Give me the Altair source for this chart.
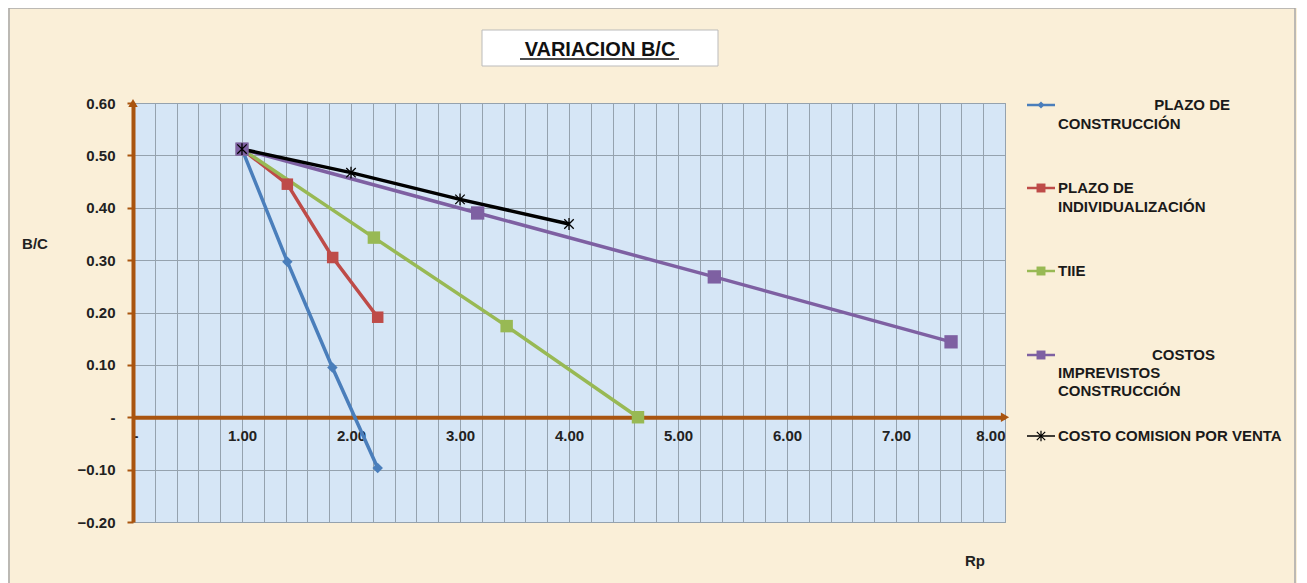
import altair as alt
import pandas as pd

# ---------------- data ----------------
SERIES = [
    "PLAZO DE CONSTRUCCIÓN",
    "PLAZO DE INDIVIDUALIZACIÓN",
    "TIIE",
    "COSTOS IMPREVISTOS CONSTRUCCIÓN",
    "COSTO COMISION POR VENTA",
]
COLORS = ["#4A7EBB", "#BE4B48", "#98B954", "#7E60A2", "#000000"]

plazo_construccion_x = [1.00, 1.416, 1.829, 2.245]
plazo_construccion_y = [0.512, 0.297, 0.095, -0.097]
plazo_individualizacion_x = [1.00, 1.416, 1.832, 2.245]
plazo_individualizacion_y = [0.512, 0.445, 0.305, 0.191]
tiie_x = [1.00, 2.21, 3.428, 4.633]
tiie_y = [0.512, 0.343, 0.174, 0.0]
imprevistos_x = [1.00, 3.162, 5.333, 7.505]
imprevistos_y = [0.512, 0.390, 0.268, 0.144]
comision_x = [1.00, 2.00, 3.00, 4.00]
comision_y = [0.512, 0.467, 0.416, 0.369]

X_TICKS = [round(i * 0.2, 1) for i in range(41)]
Y_TICKS = [round(-0.2 + i * 0.1, 1) for i in range(9)]
X_MIN, X_MAX = 0.0, 8.0
Y_MIN, Y_MAX = -0.2, 0.6

xs = [plazo_construccion_x, plazo_individualizacion_x, tiie_x, imprevistos_x, comision_x]
ys = [plazo_construccion_y, plazo_individualizacion_y, tiie_y, imprevistos_y, comision_y]
rows = []
for k, (s, xv, yv) in enumerate(zip(SERIES, xs, ys)):
    for i, (a, b) in enumerate(zip(xv, yv)):
        rows.append({"series": s, "order": k, "idx": i, "x": a, "y": b})
df = pd.DataFrame(rows)

# ---------------- styling ----------------
W, H = 872, 419
FONT = "Liberation Sans"
BROWN = "#A9540F"
BG = "#FAEFD8"
PLOT_BG = "#D6E6F6"
GRID = "#95A2AE"

STAR = "M-1,-1L1,1M-1,1L1,-1M0,-1.25L0,1.25"
SHAPES = ["diamond", "square", "square", "square", STAR]
SIZES = [110, 200, 210, 200, 90]

xscale = alt.Scale(domain=[X_MIN, X_MAX], nice=False, zero=False)
yscale = alt.Scale(domain=[Y_MIN, Y_MAX], nice=False, zero=False)
color_scale = alt.Scale(domain=SERIES, range=COLORS)

x_enc = alt.X(
    "x:Q",
    scale=xscale,
    axis=alt.Axis(
        values=X_TICKS,
        tickCount=len(X_TICKS),
        title=None,
        offset=-(H * (0 - Y_MIN) / (Y_MAX - Y_MIN)),
        labelExpr="abs(datum.value - round(datum.value)) < 0.001 ? (datum.value == 0 ? '-' : format(datum.value, '.2f')) : ''",
        labelOverlap=False,
        labelFont=FONT,
        labelFontSize=15,
        labelFontWeight="bold",
        labelColor="#222222",
        labelPadding=11,
        ticks=False,
        domainColor=BROWN,
        domainWidth=4,
        grid=True,
        gridColor=GRID,
        gridWidth=1,
    ),
)
y_enc = alt.Y(
    "y:Q",
    scale=yscale,
    axis=alt.Axis(
        values=Y_TICKS,
        tickCount=len(Y_TICKS),
        title=None,
        labelExpr="abs(datum.value) < 0.001 ? '-\u2007\u2007' : format(datum.value, '.2f')",
        labelFont=FONT,
        labelFontSize=15,
        labelFontWeight="bold",
        labelColor="#222222",
        labelPadding=12,
        tickColor=BROWN,
        tickSize=6,
        tickWidth=2,
        domainColor=BROWN,
        domainWidth=4,
        grid=True,
        gridColor=GRID,
        gridWidth=1,
    ),
)

base = alt.Chart(df)

lines = base.mark_line(strokeWidth=3.5).encode(
    x=x_enc,
    y=y_enc,
    color=alt.Color("series:N", scale=color_scale, legend=None),
    detail="series:N",
    order="idx:Q",
)

filled_pts = base.transform_filter(
    alt.datum.series != SERIES[4]
).mark_point(filled=True, opacity=1).encode(
    x=alt.X("x:Q", scale=xscale),
    y=alt.Y("y:Q", scale=yscale),
    color=alt.Color("series:N", scale=color_scale, legend=None),
    shape=alt.Shape("series:N", scale=alt.Scale(domain=SERIES, range=SHAPES), legend=None),
    size=alt.Size("series:N", scale=alt.Scale(domain=SERIES, range=SIZES), legend=None),
)

star_pts = base.transform_filter(
    alt.datum.series == SERIES[4]
).mark_point(filled=False, shape=STAR, size=90, strokeWidth=1.3, color="#000000", opacity=1).encode(
    x=alt.X("x:Q", scale=xscale),
    y=alt.Y("y:Q", scale=yscale),
)

# axis arrowheads
arrows_df = pd.DataFrame({"x": [X_MAX, X_MIN], "y": [0.0, Y_MAX], "shape": ["triangle-right", "triangle-up"]})
arrows = alt.Chart(arrows_df).mark_point(filled=True, size=90, color=BROWN, opacity=1).encode(
    x=alt.X("x:Q", scale=xscale),
    y=alt.Y("y:Q", scale=yscale),
    shape=alt.Shape("shape:N", scale=None, legend=None),
)

# ---------------- title, axis titles, frame ----------------
one = pd.DataFrame({"a": [0]})

title_box = alt.Chart(one).mark_rect(fill="#FFFFFF", stroke="#BBBBBB", strokeWidth=1).encode(
    x=alt.value(349), x2=alt.value(585), y=alt.value(-73), y2=alt.value(-37)
)
title_txt = alt.Chart(one).mark_text(
    text="VARIACION B/C", font=FONT, fontSize=20, fontWeight="bold", color="#111111",
    align="center", baseline="alphabetic"
).encode(x=alt.value(467), y=alt.value(-47))
title_ul = alt.Chart(one).mark_rule(color="#111111", strokeWidth=1.6).encode(
    x=alt.value(387), x2=alt.value(546), y=alt.value(-44)
)
ytitle = alt.Chart(one).mark_text(
    text="B/C", font=FONT, fontSize=15, fontWeight="bold", color="#222222", align="center", baseline="middle"
).encode(x=alt.value(-98), y=alt.value(141))
xtitle = alt.Chart(one).mark_text(
    text="Rp", font=FONT, fontSize=15, fontWeight="bold", color="#222222", align="center", baseline="middle"
).encode(x=alt.value(842), y=alt.value(458))
frame = alt.Chart(one).mark_rect(fill=None, stroke="#A8A8A8", strokeWidth=1.5).encode(
    x=alt.value(-124), x2=alt.value(1162), y=alt.value(-95), y2=alt.value(490)
)

# ---------------- legend (manual) ----------------
LEG_Y = [2, 85, 168, 252, 333]
LEG_LINES = [
    [("PLAZO DE", "right", 1097, 0), ("CONSTRUCCIÓN", "left", 925, 19)],
    [("PLAZO DE", "left", 925, 0), ("INDIVIDUALIZACIÓN", "left", 925, 19)],
    [("TIIE", "left", 925, 0)],
    [("COSTOS", "right", 1082, 0), ("IMPREVISTOS", "left", 925, 18), ("CONSTRUCCIÓN", "left", 925, 36)],
    [("COSTO COMISION POR VENTA", "left", 925, 0)],
]
LEG_SHAPES = ["diamond", "square", "square", "square", STAR]
LEG_SIZES = [50, 80, 80, 80, 70]

legend_layers = []
for k in range(len(SERIES)):
    yy = LEG_Y[k]
    legend_layers.append(
        alt.Chart(one).mark_rule(color=COLORS[k], strokeWidth=2.5 if k < 4 else 1.5).encode(
            x=alt.value(894), x2=alt.value(922), y=alt.value(yy)
        )
    )
    if k < 4:
        legend_layers.append(
            alt.Chart(one).mark_point(filled=True, opacity=1, shape=LEG_SHAPES[k], size=LEG_SIZES[k], color=COLORS[k]).encode(
                x=alt.value(908), y=alt.value(yy)
            )
        )
    else:
        legend_layers.append(
            alt.Chart(one).mark_point(filled=False, opacity=1, shape=STAR, size=LEG_SIZES[k], color="#000000", strokeWidth=1.2).encode(
                x=alt.value(908), y=alt.value(yy)
            )
        )
    for (txt, al, lx, dy) in LEG_LINES[k]:
        legend_layers.append(
            alt.Chart(one).mark_text(
                text=txt, font=FONT, fontSize=15, fontWeight="bold", color="#1A1A1A",
                align=al, baseline="middle"
            ).encode(x=alt.value(lx), y=alt.value(yy + dy))
        )

chart = alt.layer(
    frame, lines, filled_pts, star_pts, arrows,
    title_box, title_txt, title_ul, ytitle, xtitle,
    *legend_layers,
).properties(
    width=W, height=H,
    autosize=alt.AutoSizeParams(type="none"),
    padding={"left": 125, "top": 95, "right": 292, "bottom": 61},
    background=BG,
).configure_view(
    fill=PLOT_BG, stroke="#9A9A9A", strokeWidth=1
)

chart.save("out.html", embed_options={"renderer": "svg", "actions": False})
